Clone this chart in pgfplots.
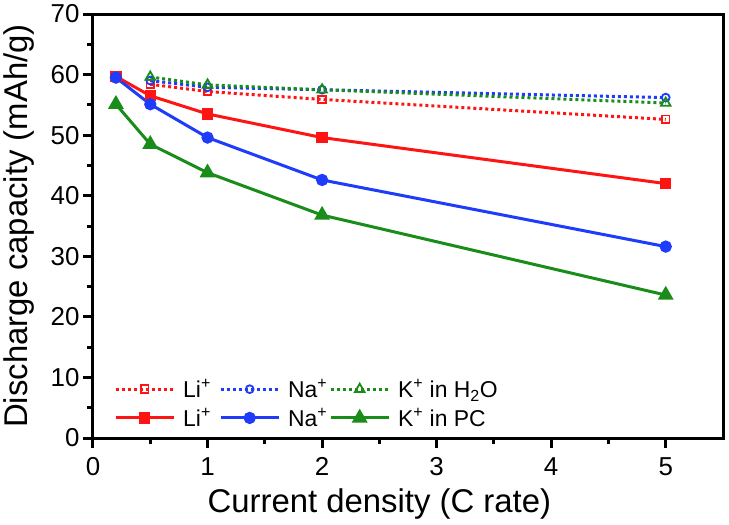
\documentclass[border=0pt]{standalone}
\usepackage{fontspec}
\setmainfont{Liberation Sans}
\usepackage{pgfplots}
\pgfplotsset{compat=1.18}
\definecolor{cred}{RGB}{255,20,20}
\definecolor{cblue}{RGB}{30,60,250}
\definecolor{cgreen}{RGB}{25,140,25}
\begin{document}
\begin{tikzpicture}
\begin{axis}[
 scale only axis, width=630bp, height=424bp,
 xmin=0, xmax=5.5, ymin=0, ymax=70,
 axis x line*=bottom, axis y line*=left,
 clip=false,
 xtick={0,1,2,3,4,5}, ytick={0,10,...,70},
 minor xtick={0.5,1.5,2.5,3.5,4.5}, minor ytick={5,15,...,65},
 tick align=outside,
 major tick length=10bp, minor tick length=6bp,
 axis line style={line width=3bp, line cap=rect},
 tick style={draw=black, line width=3bp},
 ticklabel style={font=\fontsize{26}{31}\selectfont},
 /pgf/number format/assume math mode=true,
 xticklabel style={anchor=base, yshift=-27bp},
 yticklabel style={anchor=east, xshift=0bp},
 xlabel={Current density (C rate)},
 ylabel={Discharge capacity (mAh/g)},
 every axis x label/.style={at={(rel axis cs:0.4545,0)}, yshift=-74bp, anchor=base, inner sep=0pt, font=\fontsize{33}{38}\selectfont},
 every axis y label/.style={at={(rel axis cs:0,0.5)}, xshift=-90bp, rotate=90, anchor=north, inner sep=0pt, font=\fontsize{33}{38}\selectfont},
 legend columns=3,
 legend cell align=left,
 legend style={draw=none, fill=none, font=\fontsize{23}{27}\selectfont,
   at={(rel axis cs:0,0)}, anchor=south west, xshift=21bp, yshift=10bp,
   inner sep=0pt, nodes={inner sep=0pt},
   /tikz/every odd column/.append style={column sep=0bp},
   /tikz/every even column/.append style={column sep=0bp},
   row sep=9bp},
 legend image code/.code={\draw[mark repeat=2,mark phase=2] plot coordinates {(0bp,0bp) (29bp,0bp) (58bp,0bp)};},
]
\coordinate (o) at (rel axis cs:0,0);
\draw[line width=3bp, line cap=rect, line join=miter] (rel axis cs:0,1) -- (rel axis cs:1,1) -- (rel axis cs:1,0);
\pgfplotsinvokeforeach{0,1,2,3,4,5}{\draw[line width=3bp] (axis cs:#1,0) -- ++(0,-10bp);}
\pgfplotsinvokeforeach{0.5,1.5,2.5,3.5,4.5}{\draw[line width=3bp] (axis cs:#1,0) -- ++(0,-6bp);}
\addplot[cred, line width=3bp, dash pattern=on 3bp off 3bp, mark=square, mark size=3.8bp, mark options={solid, line width=1.8bp, fill=white}]
 coordinates {(0.5,58.4) (1,57.2) (2,55.9) (5,52.6)};
\addlegendentry{\hspace*{8bp}\makebox[36bp][l]{Li\textsuperscript{+}}}
\addplot[cblue, line width=3bp, dash pattern=on 3bp off 3bp, mark=o, mark size=3.9bp, mark options={solid, line width=1.8bp, fill=white}]
 coordinates {(0.5,59.0) (1,57.9) (2,57.5) (5,56.2)};
\addlegendentry{\hspace*{8bp}\makebox[41bp][l]{Na\textsuperscript{+}}}
\addplot[cgreen, line width=3bp, dash pattern=on 3bp off 3bp, mark=triangle, mark size=5.5bp, mark options={solid, line width=1.8bp, fill=white}]
 coordinates {(0.5,59.6) (1,58.3) (2,57.5) (5,55.3)};
\addlegendentry{\hspace*{8bp}K\textsuperscript{+} in H\textsubscript{2}O}
\addplot[cred, line width=3bp, mark=square*, mark size=4.2bp, mark options={solid}]
 coordinates {(0.2,59.7) (0.5,56.5) (1,53.5) (2,49.6) (5,42.0)};
\addlegendentry{\hspace*{8bp}\makebox[36bp][l]{Li\textsuperscript{+}}}
\addplot[cblue, line width=3bp, mark=*, mark size=4.6bp, mark options={solid}]
 coordinates {(0.2,59.5) (0.5,55.1) (1,49.6) (2,42.6) (5,31.6)};
\addlegendentry{\hspace*{8bp}\makebox[41bp][l]{Na\textsuperscript{+}}}
\addplot[cgreen, line width=3bp, mark=triangle*, mark size=6.2bp, mark options={solid}]
 coordinates {(0.2,55.1) (0.5,48.5) (1,43.8) (2,36.8) (5,23.6)};
\addlegendentry{\hspace*{8bp}K\textsuperscript{+} in PC}
\end{axis}
\path ([shift={(-93bp,-87bp)}]o) rectangle ([shift={(636bp,438bp)}]o);
\end{tikzpicture}
\end{document}
